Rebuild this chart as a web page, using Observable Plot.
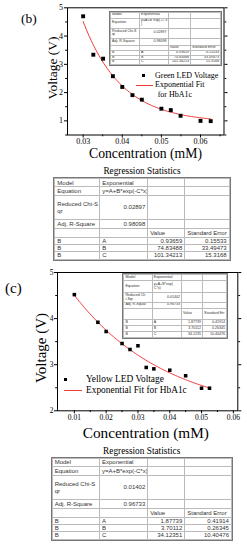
<!DOCTYPE html>
<html><head><meta charset="utf-8">
<script src="https://cdn.jsdelivr.net/npm/d3@7"></script>
<script src="https://cdn.jsdelivr.net/npm/@observablehq/plot@0.6"></script>
<style>
body{margin:0;background:#fff;}
#fig{position:relative;width:247px;height:550px;overflow:hidden;background:#fff;font-family:"Liberation Serif","Times New Roman",serif;color:#000;}
#fig svg{position:absolute;left:0;}
.t{position:absolute;white-space:nowrap;line-height:1;}
table.reg{border-collapse:collapse;position:absolute;font-family:"Liberation Sans",Arial,sans-serif;color:#333;table-layout:fixed;outline:0.8px solid #777;background:#fff;}
table.reg td{border:0.7px solid #bbb;white-space:nowrap;overflow:hidden;line-height:1.05;padding:0 2px;vertical-align:middle;}
table.inset td{padding:0 1.1px;}
</style></head>
<body><div id="fig"></div>
<script>
// ---------- data (b): Green LED ----------
const concB = [0.030, 0.0326, 0.0351, 0.0376, 0.040, 0.0426, 0.045, 0.050, 0.0524, 0.0549, 0.060, 0.0626];
const voltB = [4.70, 3.34, 3.20, 2.58, 2.20, 1.91, 1.75, 1.43, 1.38, 1.18, 1.00, 0.99];
const paramNames = ["A", "B", "C"];
const valueB = [0.93659, 74.83488, 101.34213];
const errorB = [0.15533, 33.49473, 15.3168];
const chiB = "0.02897";
const adjR2B = "0.98098";
const xTicksB = [0.03, 0.04, 0.05, 0.06];
const xMinorB = [0.035, 0.045, 0.055, 0.065];
const yTicksB = [1, 2, 3, 4, 5];
const yMinorB = [0.5, 1.5, 2.5, 3.5, 4.5];

// ---------- data (c): Yellow LED ----------
const concC = [0.010, 0.0174, 0.020, 0.025, 0.0275, 0.030, 0.0326, 0.035, 0.040, 0.045, 0.050, 0.0525];
const voltC = [4.52, 3.92, 3.72, 3.46, 3.33, 3.41, 2.94, 2.91, 2.88, 2.76, 2.49, 2.49];
const valueC = [1.87739, 3.70112, 34.12351];
const errorC = [0.41914, 0.26345, 10.40476];
const chiC = "0.01402";
const adjR2C = "0.96733";
const xTicksC = [0.01, 0.02, 0.03, 0.04, 0.05, 0.06];
const xMinorC = [0.015, 0.025, 0.035, 0.045, 0.055];
const yTicksC = [2, 3, 4, 5];
const yMinorC = [2.5, 3.5, 4.5];

const fig = document.getElementById("fig");
const RED = "#f23c3c";

function fitCurve(conc, p) {
  const [A, B, C] = p;
  const x0 = d3.min(conc), x1 = d3.max(conc), n = 80;
  return d3.range(n + 1).map(i => { const x = x0 + (x1 - x0) * i / n; return {x, y: A + B * Math.exp(-C * x)}; });
}

function panel(o) {
  const pts = o.conc.map((x, i) => ({x, y: o.volt[i]}));
  const svg = Plot.plot({
    width: 247, height: o.height,
    marginTop: o.mt, marginBottom: o.mb, marginLeft: o.ml, marginRight: o.mr,
    x: {domain: o.xDomain},
    y: {domain: o.yDomain},
    style: {fontFamily: "Liberation Serif, serif", fontSize: o.fs + "px", color: "black", background: "transparent", overflow: "visible"},
    marks: [
      Plot.frame({stroke: "black", strokeWidth: 1}),
      Plot.axisX(o.xTicks, {tickSize: 3, tickPadding: 0.5, tickFormat: d3.format(".2f"), label: null}),
      Plot.axisX(o.xMinor, {tickSize: 1.8, fill: "none", label: null}),
      Plot.axisY(o.yTicks, {tickSize: 3, tickPadding: o.yPad, tickFormat: d3.format("d"), label: null}),
      Plot.axisY(o.yMinor, {tickSize: 1.8, fill: "none", label: null}),
      Plot.axisY(o.yTicks, {anchor: "right", tickSize: 3, fill: "none", label: null}),
      Plot.axisY(o.yMinor, {anchor: "right", tickSize: 1.8, fill: "none", label: null}),
      Plot.line(fitCurve(o.conc, o.params), {x: "x", y: "y", stroke: RED, strokeWidth: 1}),
      Plot.dot(pts, {x: "x", y: "y", symbol: "square", r: o.r, fill: "black", stroke: "none"})
    ]
  });
  svg.style.top = o.top + "px";
  fig.appendChild(svg);
}

function text(s, x, y, size, anchor = "center", rotate = false) {
  const d = document.createElement("div");
  d.className = "t";
  d.textContent = s;
  d.style.left = x + "px"; d.style.top = y + "px"; d.style.fontSize = size + "px";
  const tx = anchor === "center" ? "-50%" : "0";
  d.style.transform = rotate ? "translate(-50%,-50%) rotate(-90deg)" : `translate(${tx},-50%)`;
  fig.appendChild(d);
}

function box(x, y, w, h, color) {
  const d = document.createElement("div");
  d.style.cssText = `position:absolute;left:${x}px;top:${y}px;width:${w}px;height:${h}px;background:${color};`;
  fig.appendChild(d);
}

function table(left, top, cols, heights, fs, rows, cls = "") {
  const t = document.createElement("table");
  t.className = "reg " + cls;
  t.style.left = left + "px"; t.style.top = top + "px"; t.style.fontSize = fs + "px";
  t.style.width = d3.sum(cols) + "px";
  const cg = document.createElement("colgroup");
  cols.forEach(w => { const c = document.createElement("col"); c.style.width = w + "px"; cg.appendChild(c); });
  t.appendChild(cg);
  rows.forEach((r, i) => {
    const tr = document.createElement("tr");
    tr.style.height = heights[i] + "px";
    r.forEach(cell => {
      const td = document.createElement("td");
      td.innerHTML = cell.replace(/\n/g, "<br>");
      if (/^[\d.]+$/.test(cell)) td.style.textAlign = "right";
      td.style.fontSize = fs + "px";
      tr.appendChild(td);
    });
    t.appendChild(tr);
  });
  fig.appendChild(t);
}

// labels: [equation, chi label, adj label, std error header]; shown: how many characters a number cell shows
function rowsFor(labels, chi, r2, vals, errs, shown = 12) {
  const [eq, chiLabel, adjLabel, seLabel] = labels;
  const s = v => String(v).slice(0, shown);
  return [
    ["Model", "Exponential", "", ""],
    ["Equation", eq, "", ""],
    [chiLabel, chi, "", ""],
    [adjLabel, r2, "", ""],
    ["", "", "Value", seLabel],
    ...paramNames.map((p, i) => ["B", p, s(vals[i]), s(errs[i])])
  ];
}

// ---------- panel (b) ----------
panel({conc: concB, volt: voltB, params: valueB, top: 0, height: 147, mt: 7.3, mb: 12.5, ml: 67, mr: 23.5,
  xDomain: [0.026, 0.066], yDomain: [0.5, 5], xTicks: xTicksB, xMinor: xMinorB, yTicks: yTicksB, yMinor: yMinorB,
  fs: 8, yPad: 1.5, r: 2.2});
text("(b)", 21, 19, 13.5, "left");
text("Voltage (V)", 52.5, 68, 13.5, "center", true);
text("Concentration (mM)", 145.5, 154, 13.7);
text("Regression Statistics", 142, 171.7, 9.3);
table(110, 11.7, [29, 28.7, 22.3, 30], [6, 10.1, 10, 7, 5, 4.7, 4.2, 4], 3.6,
  rowsFor(["y=A+B*exp(-C*x\n)", "Reduced Chi-S\nqr", "Adj. R-Square", "Standard Error"], chiB, adjR2B, valueB, errorB), "inset");
box(142.2, 74.2, 3, 3, "black");
text("Green LED Voltage", 155, 75.7, 8, "left");
box(136, 84.8, 17, 1, RED);
text("Exponential Fit", 155, 85.3, 8, "left");
text("for HbA1c", 157.7, 94.5, 8, "left");
table(54.3, 178.3, [45, 48, 37, 44.4], [8.2, 8.5, 24.3, 8.4, 9, 6.6, 6.7, 7.3], 6,
  rowsFor(["y=A+B*exp(-C*x)", "Reduced Chi-S\nqr", "Adj. R-Square", "Standard Error"], chiB, adjR2B, valueB, errorB));

// ---------- panel (c) ----------
panel({conc: concC, volt: voltC, params: valueC, top: 262, height: 162, mt: 10, mb: 13.7, ml: 57, mr: 9.7,
  xDomain: [0.0047, 0.0614], yDomain: [2, 5], xTicks: xTicksC, xMinor: xMinorC, yTicks: yTicksC, yMinor: yMinorC,
  fs: 7.5, yPad: 1, r: 2});
text("(c)", 5, 288, 15, "left");
text("Voltage (V)", 41, 348, 15, "center", true);
text("Concentration (mM)", 145.8, 433, 15.3);
text("Regression Statistics", 141.7, 451.7, 9.3);
table(123.3, 274.3, [28.4, 29.3, 21, 24], [5.7, 12.3, 9.5, 6, 11.5, 6, 6, 6], 3.6,
  rowsFor(["y=A+B*exp(\nC*x)", "Reduced Ch\ni-Sqr", "Adj. R-Squar", "Standard Err"], chiC, adjR2C, valueC, errorC, 8).map(
    r => r.map(c => c === "34.12351" ? c.slice(0, 7) : c)), "inset");
box(63.5, 378, 3, 3, "black");
text("Yellow LED Voltage", 86, 379.5, 9.4, "left");
box(64, 390, 17.7, 1, RED);
text("Exponential Fit for HbA1c", 86, 390.5, 9.4, "left");
table(51.7, 458.3, [47.3, 48.3, 37, 46.7], [7.7, 9, 24.3, 8.4, 9, 6.6, 6.7, 7.3], 6,
  rowsFor(["y=A+B*exp(-C*x)", "Reduced Chi-S\nqr", "Adj. R-Square", "Standard Error"], chiC, adjR2C, valueC, errorC));
</script>
</body></html>
